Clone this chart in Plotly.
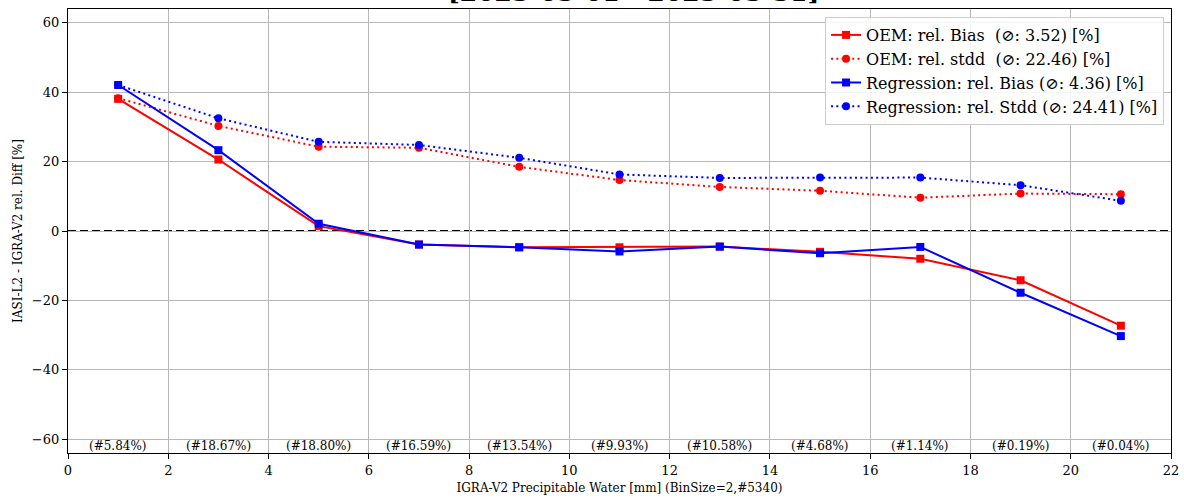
import plotly.graph_objects as go

# ---- data ----
bin_centers = [1, 3, 5, 7, 9, 11, 13, 15, 17, 19, 21]
oem_bias = [38.1, 20.6, 1.4, -3.9, -4.7, -4.7, -4.5, -6.0, -8.0, -14.2, -27.3]
oem_stdd = [38.3, 30.3, 24.3, 24.0, 18.5, 14.7, 12.7, 11.6, 9.6, 10.8, 10.6]
reg_bias = [42.1, 23.3, 2.1, -3.9, -4.7, -5.9, -4.5, -6.4, -4.6, -17.8, -30.3]
reg_stdd = [42.1, 32.5, 25.7, 24.8, 21.1, 16.3, 15.3, 15.4, 15.4, 13.2, 8.7]
bin_share = ["(#5.84%)", "(#18.67%)", "(#18.80%)", "(#16.59%)", "(#13.54%)",
             "(#9.93%)", "(#10.58%)", "(#4.68%)", "(#1.14%)", "(#0.19%)", "(#0.04%)"]
x_ticks = [0, 2, 4, 6, 8, 10, 12, 14, 16, 18, 20, 22]
y_ticks = [-60, -40, -20, 0, 20, 40, 60]

names = ["OEM: rel. Bias \u00a0(\u2298: 3.52) [%]",
         "OEM: rel. stdd \u00a0(\u2298: 22.46) [%]",
         "Regression: rel. Bias (\u2298: 4.36) [%]",
         "Regression: rel. Stdd (\u2298: 24.41) [%]"]

SERIF = "DejaVu Serif"
RED = "#ff0000"
BLUE = "#0000ff"
DOT = "2px,3.3px"

fig = go.Figure()
fig.add_trace(go.Scatter(x=bin_centers, y=oem_bias, name=names[0], mode="lines+markers",
                         line=dict(color=RED, width=2), marker=dict(symbol="square", size=8, color=RED)))
fig.add_trace(go.Scatter(x=bin_centers, y=oem_stdd, name=names[1], mode="lines+markers",
                         line=dict(color=RED, width=2, dash=DOT), marker=dict(symbol="circle", size=8, color=RED)))
fig.add_trace(go.Scatter(x=bin_centers, y=reg_bias, name=names[2], mode="lines+markers",
                         line=dict(color=BLUE, width=2), marker=dict(symbol="square", size=8, color=BLUE)))
fig.add_trace(go.Scatter(x=bin_centers, y=reg_stdd, name=names[3], mode="lines+markers",
                         line=dict(color=BLUE, width=2, dash=DOT), marker=dict(symbol="circle", size=8, color=BLUE)))

# zero reference line (white backing hides the grid in the dash gaps)
fig.add_shape(type="line", xref="paper", x0=0, x1=1, yref="y", y0=0, y1=0,
              line=dict(color="white", width=2.2), layer="between")
fig.add_shape(type="line", xref="paper", x0=0, x1=1, yref="y", y0=0, y1=0,
              line=dict(color="black", width=2.2, dash="8px,4px"), layer="between")

for xc, txt in zip(bin_centers, bin_share):
    fig.add_annotation(x=xc, y=-62, text=txt, showarrow=False,
                       font=dict(family=SERIF, size=12, color="black"), yanchor="middle")

fig.add_annotation(xref="paper", yref="paper", x=0.513, y=1, yshift=17, yanchor="middle",
                   text="<b>[2023-03-01 - 2023-03-31]</b>", showarrow=False,
                   font=dict(family=SERIF, size=25, color="black"))

fig.update_layout(
    width=1184, height=500,
    margin=dict(l=68, r=13, t=9, b=47, autoexpand=False),
    paper_bgcolor="white", plot_bgcolor="white",
    font=dict(family=SERIF, size=12, color="black"),
    showlegend=True,
    legend=dict(x=0.9937, xanchor="right", y=0.982, yanchor="top",
                bgcolor="rgba(255,255,255,0.85)", bordercolor="#cccccc", borderwidth=1,
                font=dict(family=SERIF, size=16, color="black"), tracegroupgap=0),
)
fig.update_xaxes(range=[0, 22], tickvals=x_ticks, ticks="outside", ticklen=5, tickcolor="black",
                 showline=True, linecolor="black", linewidth=1.2, mirror=True, automargin=False,
                 showgrid=True, gridcolor="#b8b8b8", gridwidth=1.4, zeroline=False,
                 tickfont=dict(family=SERIF, size=13),
                 title=dict(text="IGRA-V2 Precipitable Water [mm] (BinSize=2,#5340)",
                            font=dict(family=SERIF, size=12), standoff=6))
fig.update_yaxes(range=[-64, 64], tickvals=y_ticks, ticks="outside", ticklen=5, tickcolor="black",
                 showline=True, linecolor="black", linewidth=1.2, mirror=True, automargin=False,
                 showgrid=True, gridcolor="#b8b8b8", gridwidth=1.4, zeroline=False,
                 tickfont=dict(family=SERIF, size=13),
                 title=dict(text="IASI-L2 - IGRA-V2 rel. Diff [%]",
                            font=dict(family=SERIF, size=12), standoff=6))

fig.write_html("out.html", config={"displayModeBar": False},
               post_script="document.body.style.margin='0';document.body.style.overflow='hidden';")
